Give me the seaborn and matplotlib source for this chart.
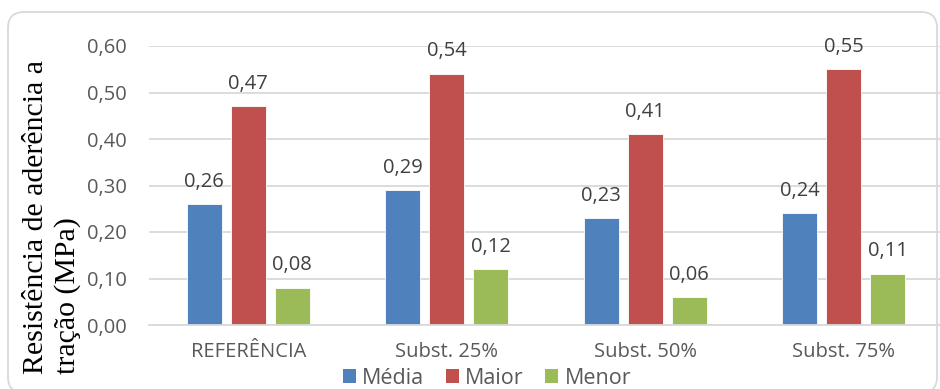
import matplotlib
matplotlib.use("Agg")
import matplotlib.pyplot as plt
from matplotlib.patches import FancyBboxPatch, Patch
from matplotlib.transforms import IdentityTransform
import seaborn as sns
import pandas as pd

# Bond strength results per mix
categories = ["REFERÊNCIA", "Subst. 25%", "Subst. 50%", "Subst. 75%"]
series = ["Média", "Maior", "Menor"]
media = [0.26, 0.29, 0.23, 0.24]
maior = [0.47, 0.54, 0.41, 0.55]
menor = [0.08, 0.12, 0.06, 0.11]
colors = ["#4F81BD", "#C0504D", "#9BBB59"]
yticks = [0.0, 0.1, 0.2, 0.3, 0.4, 0.5, 0.6]

rows = []
for name, vals in zip(series, [media, maior, menor]):
    for cat, v in zip(categories, vals):
        rows.append({"Mistura": cat, "Série": name, "Valor": v})
df = pd.DataFrame(rows)

sns.set_theme(style="white")
plt.rcParams["font.family"] = ["Open Sans", "DejaVu Sans"]

fig = plt.figure(figsize=(9.4, 3.89), dpi=100)
ax = fig.add_axes([149 / 940, 64 / 389, 794 / 940, 279 / 389])

sns.barplot(data=df, x="Mistura", y="Valor", hue="Série", order=categories,
            hue_order=series, palette=colors, width=0.665, gap=0.2,
            saturation=1, edgecolor="white", linewidth=0.6, ax=ax, legend=False)

for cont in ax.containers:
    ax.bar_label(cont, labels=[f"{v:.2f}".replace(".", ",") for v in cont.datavalues],
                 padding=9, fontsize=14.5, color="#404040", clip_on=False)

ax.set_ylim(0, 0.6)
ax.set_yticks(yticks)
ax.set_yticklabels([f"{t:.2f}".replace(".", ",") for t in yticks])
ax.set_xlim(-0.5, 3.5)
ax.tick_params(axis="both", length=0, labelsize=14.5, labelcolor="#595959")
ax.tick_params(axis="y", pad=16)
ax.tick_params(axis="x", pad=12)
ax.yaxis.grid(True, color="#D9D9D9", linewidth=1.3)
ax.set_axisbelow(True)
for side in ["left", "right", "top"]:
    ax.spines[side].set_visible(False)
ax.spines["bottom"].set_color("#D9D9D9")
ax.spines["bottom"].set_linewidth(1.3)
ax.set_xlabel("")
ax.set_ylabel("")

fig.text(52 / 940, 1 - 217 / 389, "Resistência de aderência a\ntração (MPa)",
         rotation=90, ha="center", va="center", multialignment="left",
         fontsize=21.5, family=["Liberation Serif"], color="black", linespacing=1.2)

handles = [Patch(facecolor=c, edgecolor="none") for c in colors]
fig.legend(handles, series, loc="center", bbox_to_anchor=(487 / 940, 1 - 378 / 389),
           ncol=3, frameon=False, fontsize=15.5, labelcolor="#595959",
           handlelength=0.6, handleheight=0.6, handletextpad=0.3,
           columnspacing=1.0, borderpad=0)

frame = FancyBboxPatch((8, -4), 929, 381, boxstyle="round,pad=0,rounding_size=16",
                       transform=IdentityTransform(), fill=False,
                       edgecolor="#D9D9D9", linewidth=1.3)
fig.patches.append(frame)

fig.savefig("out.png", dpi=100)
